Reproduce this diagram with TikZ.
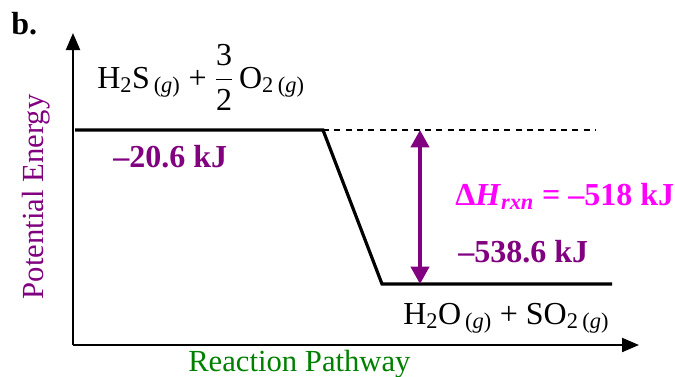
\documentclass[tikz,border=0pt]{standalone}
\usepackage{fontspec}
\setmainfont{Liberation Serif}
\usepackage{amsmath}
\usetikzlibrary{arrows.meta,positioning}
\definecolor{LevelPurple}{HTML}{800080}
\definecolor{DeltaMagenta}{HTML}{FF00FF}
\definecolor{PathGreen}{HTML}{008000}
\newcommand{\gas}{\textsubscript{\,(\textit{g})}}

\begin{document}
\begin{tikzpicture}[x=0.75pt, y=-0.75pt,
  axisline/.style={-{Triangle[length=12.75pt, width=10.5pt]}, line width=1.5pt, draw=black},
  levelline/.style={line width=2.4pt, draw=black, line join=miter},
  guideline/.style={dash pattern=on 4.5pt off 4pt, line width=1pt, draw=black},
  deltaflow/.style={{Triangle[length=13pt, width=13.5pt]}-{Triangle[length=13pt, width=13.5pt]}, line width=3pt, draw=LevelPurple},
  speciestext/.style={inner sep=0pt, anchor=base west, font=\fontsize{24}{28}\selectfont},
  energytext/.style={inner sep=0pt, anchor=base west, font=\fontsize{24}{28}\selectfont\bfseries, text=LevelPurple},
  axistext/.style={inner sep=0pt, font=\fontsize{23}{28}\selectfont}
]
\useasboundingbox (0,0) rectangle (675,376);
% axes
\coordinate (origin) at (73,345);
\coordinate (ytip) at (73,33);
\coordinate (xtip) at (639,345);
\draw[axisline] (origin) -- (ytip);
\draw[axisline] (origin) -- (xtip);
% energy levels
\coordinate (reactL) at (75,130);
\coordinate (reactR) at (323,130);
\coordinate (prodL) at (382,284);
\coordinate (prodR) at (612,284);
\coordinate (guideR) at (596,130);
\coordinate (deltaTop) at (420,130);
\coordinate (deltaBot) at (420,284);
\draw[levelline] (reactL) -- (reactR) -- (prodL) -- (prodR);
\draw[guideline] (reactR) -- (guideR);
\draw[deltaflow] (deltaTop) -- (deltaBot);
% labels
\node[inner sep=0pt, anchor=base west, font=\fontsize{24}{28}\selectfont\bfseries] (panel) at (11,34) {b.};
\node[speciestext] (reactants) at (97,88) {H\textsubscript{2}S\gas{} + $\dfrac{\text{3}}{\text{2}}$\,O\textsubscript{2}\gas};
\node[speciestext] (products) at (403,324) {H\textsubscript{2}O\gas{} + SO\textsubscript{2}\gas};
\node[energytext] (reactE) at (113,167) {–20.6 kJ};
\node[energytext] (prodE) at (458,262) {–538.6 kJ};
\node[energytext, text=DeltaMagenta] (deltaH) at (455,205) {Δ\textit{H}\textsubscript{\textit{rxn}} = –518 kJ};
\node[axistext, text=LevelPurple, rotate=90, anchor=base] (yname) at (43,197) {Potential Energy};
\node[axistext, text=PathGreen, anchor=base west] (xname) at (188,371) {Reaction Pathway};
\end{tikzpicture}
\end{document}
